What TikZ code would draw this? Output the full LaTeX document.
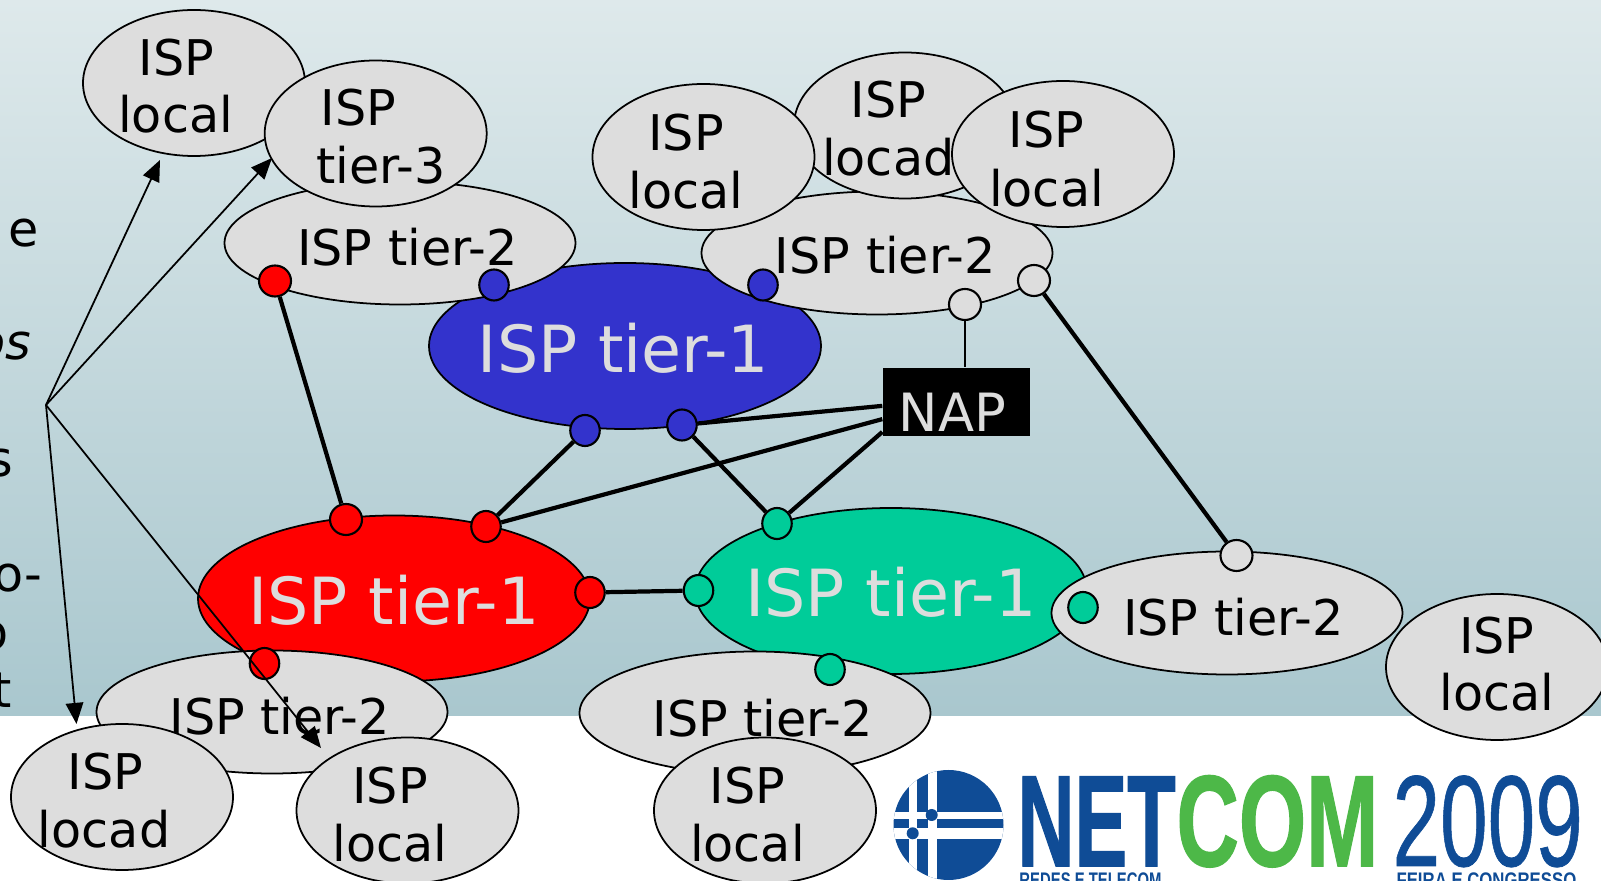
\documentclass[tikz,border=0pt]{standalone}
\usepackage{fontspec}
\setmainfont{DejaVu Sans}
\newfontfamily\logofont[FakeBold=0.6]{Liberation Sans}
\newfontfamily\logoheavy[FakeBold=1.2]{Liberation Sans Bold}
\newfontfamily\logosmall{Liberation Sans Bold}
\usetikzlibrary{
   arrows.meta,
   positioning,
   shapes.geometric
}
\definecolor{bgtop}{HTML}{DEE9EB}
\definecolor{bgbottom}{HTML}{A9C7CE}
\definecolor{ispgray}{HTML}{DDDDDD}
\definecolor{ispblue}{HTML}{3333CC}
\definecolor{ispgreen}{HTML}{00CC99}
\definecolor{logoblue}{HTML}{0F4C96}
\definecolor{logogreen}{HTML}{4DB848}
\tikzset{
  isp/.style={ellipse, draw=black, line width=0.5pt, fill=ispgray, inner sep=0pt,
    minimum width=2.22cm, minimum height=1.46cm},
  isptwo/.style={isp, minimum width=3.51cm, minimum height=1.23cm},
  ispone/.style={isp, minimum width=3.92cm, minimum height=1.66cm},
  port/.style={ellipse, draw=black, line width=0.6pt, inner sep=0pt,
    minimum width=0.295cm, minimum height=0.31cm},
  portwide/.style={port, minimum width=0.32cm},
  lbl/.style={anchor=base, inner sep=0pt, font=\fontsize{14}{14}\selectfont},
  biglbl/.style={lbl, text=ispgray, font=\fontsize{18.5}{18.5}\selectfont},
  cut/.style={anchor=base east, inner sep=0pt, font=\fontsize{14}{14}\selectfont},
  link/.style={line width=1.2pt},
  ptr/.style={-{Triangle[length=6pt,width=5pt]}, line width=0.5pt},
  logotxt/.style={anchor=base west, inner sep=0pt, transform shape},
}
\begin{document}
\begin{tikzpicture}[x=1cm, y=-1cm]

\useasboundingbox (0,0) rectangle (16.01,8.81);
\clip (0,0) rectangle (16.01,8.81);

% background
\fill[white] (0,0) rectangle (16.01,8.81);
\shade[top color=bgtop, bottom color=bgbottom] (0,0) rectangle (16.01,7.16);

% text cut off at the left edge
\node[cut] (cute) at (0.398,2.47) {e};
\node[cut] (cutos) at (0.32,3.60) {\itshape os};
\node[cut] (cuts) at (0.135,4.77) {s};
\node[cut] (cuto) at (0.43,5.92) {o-};
\node[cut] (cutp) at (0.095,6.50) {o};
\node[cut] (cutt) at (0.125,7.08) {t};

% tier-1
\node[ispone, fill=ispblue] (blueone) at (6.25,3.46) {};
\node[ispone, fill=red] (redone) at (3.94,5.985) {};
\node[ispone, fill=ispgreen] (greenone) at (8.91,5.91) {};
\node[biglbl] (bluelbl) at (6.235,3.727) {ISP tier-1};
\node[biglbl] (redlbl) at (3.94,6.249) {ISP tier-1};
\node[biglbl] (greenlbl) at (8.91,6.167) {ISP tier-1};

% tier-2
\node[isptwo] (twoa) at (4.00,2.43) {};
\node[isptwo] (twob) at (8.77,2.53) {};
\node[isptwo] (twoc) at (12.27,6.13) {};
\node[isptwo] (twod) at (2.72,7.12) {};
\node[isptwo] (twoe) at (7.55,7.13) {};
\node[lbl] (twoalbl) at (4.074,2.655) {ISP tier-2};
\node[lbl] (twoblbl) at (8.852,2.736) {ISP tier-2};
\node[lbl] (twoclbl) at (12.334,6.351) {ISP tier-2};
\node[lbl] (twodlbl) at (2.798,7.341) {ISP tier-2};
\node[lbl] (twoelbl) at (7.627,7.361) {ISP tier-2};

% top left
\node[isp] (locala) at (1.94,0.83) {};
\node[lbl] (localaup) at (1.766,0.756) {ISP};
\node[lbl] (localadn) at (1.756,1.327) {local};
\node[isp] (three) at (3.757,1.335) {};
\node[lbl] (threeup) at (3.584,1.256) {ISP};
\node[lbl] (threedn) at (3.808,1.838) {tier-3};

% top middle
\node[isp] (localc) at (9.05,1.255) {};
\node[lbl] (localcup) at (8.883,1.174) {ISP};
\node[lbl] (localcdn) at (8.883,1.756) {locad};
\node[isp] (localb) at (7.035,1.57) {};
\node[lbl] (localbup) at (6.861,1.501) {ISP};
\node[lbl] (localbdn) at (6.861,2.083) {local};
\node[isp] (locald) at (10.63,1.54) {};
\node[lbl] (localdup) at (10.465,1.480) {ISP};
\node[lbl] (localddn) at (10.465,2.062) {local};

% right
\node[isp] (locale) at (14.97,6.67) {};
\node[lbl] (localeup) at (14.968,6.534) {ISP};
\node[lbl] (localedn) at (14.968,7.106) {local};

% bottom
\node[isp] (localf) at (1.22,7.97) {};
\node[lbl] (localfup) at (1.052,7.892) {ISP};
\node[lbl] (localfdn) at (1.041,8.474) {locad};
\node[isp] (localg) at (4.075,8.105) {};
\node[lbl] (localgup) at (3.900,8.035) {ISP};
\node[lbl] (localgdn) at (3.900,8.617) {local};
\node[isp] (localh) at (7.65,8.105) {};
\node[lbl] (localhup) at (7.474,8.035) {ISP};
\node[lbl] (localhdn) at (7.474,8.617) {local};

% NAP
\node[fill=black, minimum width=1.47cm, minimum height=0.68cm, inner sep=0pt] (nap) at (9.565,4.02) {};
\node[lbl, text=ispgray, font=\fontsize{15}{15}\selectfont] (naplbl) at (9.526,4.319) {NAP};

% ports
\node[portwide, fill=red] (reda) at (2.75,2.81) {};
\node[portwide, fill=red] (redb) at (3.46,5.195) {};
\node[port, fill=red] (redc) at (4.86,5.265) {};
\node[port, fill=red] (redd) at (5.90,5.925) {};
\node[port, fill=red] (rede) at (2.645,6.635) {};
\node[port, fill=ispblue] (bluea) at (4.94,2.85) {};
\node[port, fill=ispblue] (blueb) at (7.63,2.85) {};
\node[port, fill=ispblue] (bluec) at (5.85,4.305) {};
\node[port, fill=ispblue] (blued) at (6.82,4.25) {};
\node[port, fill=ispgreen] (greena) at (7.77,5.235) {};
\node[port, fill=ispgreen] (greenb) at (6.985,5.905) {};
\node[port, fill=ispgreen] (greenc) at (10.83,6.075) {};
\node[port, fill=ispgreen] (greend) at (8.30,6.695) {};
\node[portwide, fill=ispgray] (graya) at (9.65,3.045) {};
\node[portwide, fill=ispgray] (grayb) at (10.34,2.805) {};
\node[portwide, fill=ispgray] (grayc) at (12.365,5.555) {};

% links
\draw[link] (reda) -- (redb);
\draw[link] (bluec) -- (redc);
\draw[link] (blued) -- (greena);
\draw[link] (redd) -- (greenb);
\draw[link] (grayb) -- (grayc);
\draw[link] (blued) -- (nap.183);
\draw[link] (redc) -- (nap.193);
\draw[link] (greena) -- (nap.202);
\draw[line width=0.5pt] (graya) -- (graya |- nap.north);

% pointers
\coordinate (hub) at (0.46,4.05);
\coordinate (ptra) at (1.60,1.60);
\coordinate (ptrb) at (2.72,1.58);
\coordinate (ptrc) at (0.765,7.24);
\coordinate (ptrd) at (3.21,7.48);
\draw[ptr] (hub) -- (ptra);
\draw[ptr] (hub) -- (ptrb);
\draw[ptr] (hub) -- (ptrc);
\draw[ptr] (hub) -- (ptrd);

% logo
\begin{scope}
  \clip (9.485,8.25) circle (0.55);
  \fill[logoblue] (8.9,7.6) rectangle (10.1,8.9);
  \fill[white] (8.9,8.12) rectangle (10.1,8.19);
  \fill[white] (8.9,8.28) rectangle (10.1,8.39);
  \fill[white] (9.09,7.6) rectangle (9.17,8.9);
  \fill[white] (9.28,7.6) rectangle (9.37,8.9);
  \fill[logoblue] (9.317,8.15) circle (0.06);
  \fill[logoblue] (9.127,8.333) circle (0.06);
\end{scope}
\node[logotxt, text=logoblue, xscale=0.61, font=\logoheavy\fontsize{36.9}{36.9}\selectfont] (lognet) at (10.17,8.66) {NET};
\node[logotxt, text=logogreen, xscale=0.667, font=\logoheavy\fontsize{36.9}{36.9}\selectfont] (logcom) at (11.76,8.66) {COM};
\node[logotxt, text=logoblue, xscale=0.66, font=\logofont\fontsize{36.9}{36.9}\selectfont] (logyear) at (13.92,8.66) {2009};
\node[logotxt, text=logoblue, xscale=0.705, font=\logosmall\fontsize{6}{6}\selectfont] (logleft) at (10.19,8.88) {REDES E TELECOM};
\node[logotxt, text=logoblue, xscale=0.795, font=\logosmall\fontsize{6}{6}\selectfont] (logright) at (13.96,8.88) {FEIRA E CONGRESSO};

\end{tikzpicture}
\end{document}
